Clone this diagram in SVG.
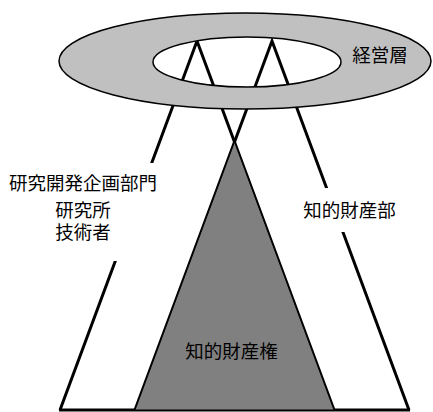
<svg xmlns="http://www.w3.org/2000/svg" width="433" height="412" viewBox="0 0 433 412">
<style>
  .lbl { font-family: "Noto Sans CJK JP", "Noto Sans", sans-serif; font-size: 18.5px; fill: #000; text-anchor: middle; }
  .leg { fill: none; stroke: #000; stroke-width: 3; stroke-linejoin: miter; }
</style>
<rect width="433" height="412" fill="#fff"/>
<g id="connectors">
  <polyline class="leg" points="60,410 197,41 334,410"/>
  <polyline class="leg" points="135,410 272,41 409,410"/>
  <line x1="59" y1="410" x2="410" y2="410" stroke="#000" stroke-width="3"/>
</g>
<g id="ip-rights">
  <polygon points="234.5,142 135,410 334,410" fill="#808080" stroke="#000" stroke-width="1"/>
  <text class="lbl" x="231.5" y="358">知的財産権</text>
</g>
<g id="management">
  <path d="M59,61 a186,48 0 1,0 372,0 a186,48 0 1,0 -372,0 Z M153,62 a94,25 0 1,0 188,0 a94,25 0 1,0 -188,0 Z" fill="#c0c0c0" fill-rule="evenodd" stroke="#000" stroke-width="1.5"/>
  <text class="lbl" x="380" y="61.5">経営層</text>
</g>
<g id="rd">
  <rect x="5" y="163" width="156" height="98" fill="#fff"/>
  <text class="lbl" x="83" y="190">研究開発企画部門</text>
  <text class="lbl" x="83" y="217">研究所</text>
  <text class="lbl" x="83" y="238.5">技術者</text>
</g>
<g id="ip-dept">
  <rect x="300" y="188" width="98" height="44" fill="#fff"/>
  <text class="lbl" x="349.5" y="216.5">知的財産部</text>
</g>
</svg>
